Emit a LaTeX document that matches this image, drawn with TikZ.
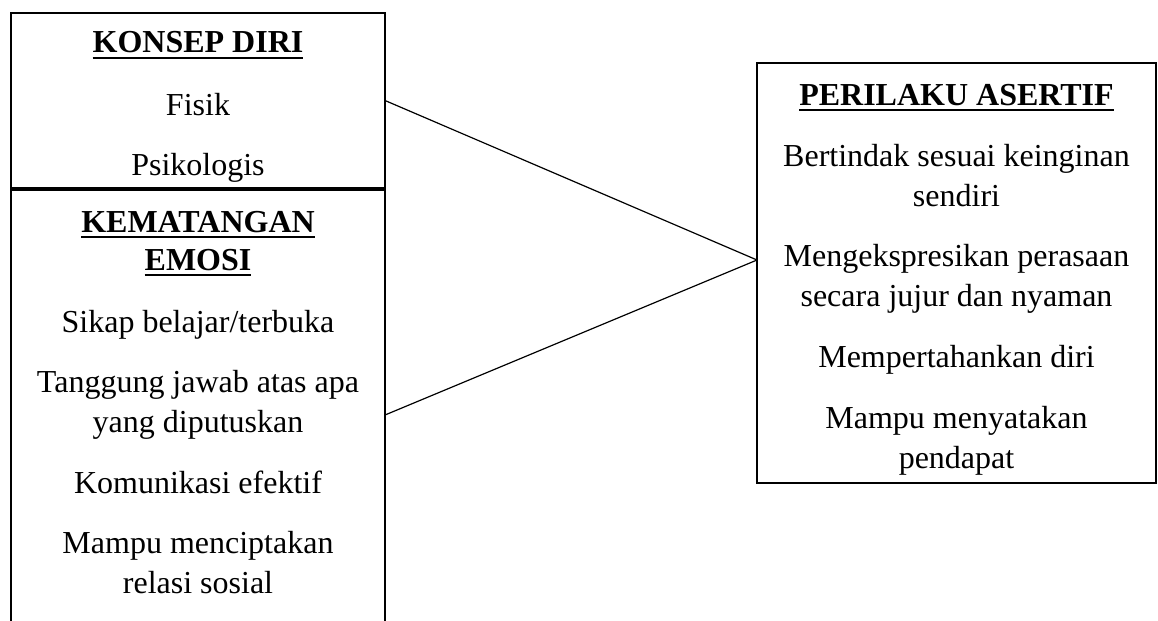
\documentclass[tikz,border=0pt]{standalone}
\usepackage{fontspec}
\setmainfont{Liberation Serif}
\newcommand\ulx[1]{\setbox0\hbox{#1}\rlap{\rule[-2.8pt]{\wd0}{1pt}}\box0}
\begin{document}
\begin{tikzpicture}[x=0.5pt,y=-0.5pt,
  boxline/.style={draw=black,line width=1.1pt},
  boxnode/.style={boxline,rectangle,inner sep=0pt,outer sep=0pt},
  conn/.style={draw=black,line width=0.6pt},
  txt/.style={anchor=base,inner sep=0pt,font=\fontsize{16}{19}\selectfont},
  ttl/.style={txt,font=\fontsize{16}{19}\selectfont\bfseries}]
\useasboundingbox (0,0) rectangle (1158,621);
% boxes
\node[boxnode,minimum width=187pt,minimum height=87.5pt] (kd) at (198,100.5) {};
\coordinate (emTL) at (11,190);
\coordinate (emTR) at (385,190);
\coordinate (emBL) at (11,625);
\coordinate (emBR) at (385,625);
\draw[boxline] (emBL) -- (emTL) -- (emTR) -- (emBR);
\node[boxnode,minimum width=199.5pt,minimum height=210pt] (pa) at (956.5,273) {};
% connectors
\coordinate (emOut) at (385,415);
\coordinate (apex) at (757,260);
\draw[conn] (kd.east) -- (apex);
\draw[conn] (emOut) -- (apex);
% left top texts
\node[ttl] (t1) at (198,53) {\ulx{KONSEP DIRI}};
\node[txt] (k1) at (198,115) {Fisik};
\node[txt] (k2) at (198,175) {Psikologis};
% left bottom texts
\node[ttl] (t2a) at (198,232) {\ulx{KEMATANGAN}};
\node[ttl] (t2b) at (198,270) {\ulx{EMOSI}};
\node[txt] (e1) at (198,332) {Sikap belajar/terbuka};
\node[txt] (e2a) at (198,392) {Tanggung jawab atas apa};
\node[txt] (e2b) at (198,432) {yang diputuskan};
\node[txt] (e3) at (198,493) {Komunikasi efektif};
\node[txt] (e4a) at (198,553) {Mampu menciptakan};
\node[txt] (e4b) at (198,593) {relasi sosial};
% right texts
\node[ttl] (t3) at (956.5,105) {\ulx{PERILAKU ASERTIF}};
\node[txt] (p1a) at (956.5,166) {Bertindak sesuai keinginan};
\node[txt] (p1b) at (956.5,206) {sendiri};
\node[txt] (p2a) at (956.5,266) {Mengekspresikan perasaan};
\node[txt] (p2b) at (956.5,306) {secara jujur dan nyaman};
\node[txt] (p3) at (956.5,367) {Mempertahankan diri};
\node[txt] (p4a) at (956.5,428) {Mampu menyatakan};
\node[txt] (p4b) at (956.5,468) {pendapat};
\end{tikzpicture}
\end{document}
